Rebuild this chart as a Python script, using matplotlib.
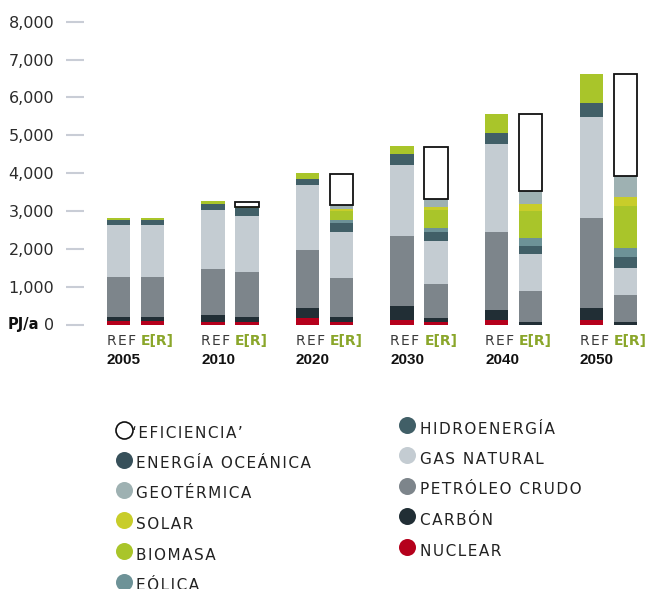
import matplotlib
matplotlib.use("Agg")
import matplotlib.pyplot as plt
import matplotlib.transforms as mtrans
import numpy as np

# ---------------- data ----------------
years = ["2005", "2010", "2020", "2030", "2040", "2050"]
scenarios = ["REF", "E[R]"]

sources = ["NUCLEAR", "CARBÓN", "PETRÓLEO CRUDO", "GAS NATURAL", "HIDROENERGÍA",
           "ENERGÍA OCEÁNICA", "EÓLICA", "BIOMASA", "SOLAR", "GEOTÉRMICA", "‘EFICIENCIA’"]

# segment values in PJ/a, one entry per year
ref_nuclear   = [87, 61, 159, 132, 132, 132]
ref_carbon    = [98, 177, 264, 344, 238, 291]
ref_petroleo  = [1057, 1216, 1533, 1850, 2062, 2379]
ref_gas       = [1375, 1559, 1718, 1877, 2326, 2670]
ref_hidro     = [140, 159, 159, 291, 291, 370]
ref_oceanica  = [0, 0, 0, 0, 0, 0]
ref_eolica    = [0, 0, 0, 0, 0, 0]
ref_biomasa   = [45, 79, 158, 211, 502, 766]
ref_solar     = [0, 0, 0, 0, 0, 0]
ref_geotermica = [0, 0, 0, 0, 0, 0]
ref_eficiencia = [0, 0, 0, 0, 0, 0]

er_nuclear    = [87, 53, 53, 53, 0, 0]
er_carbon     = [98, 132, 132, 106, 79, 53]
er_petroleo   = [1057, 1190, 1031, 898, 793, 714]
er_gas        = [1375, 1480, 1216, 1137, 978, 713]
er_hidro      = [140, 230, 238, 238, 212, 291]
er_oceanica   = [0, 0, 0, 0, 0, 0]
er_eolica     = [0, 0, 79, 106, 211, 238]
er_biomasa    = [45, 16, 238, 475, 714, 1110]
er_solar      = [0, 0, 53, 80, 185, 238]
er_geotermica = [0, 0, 114, 211, 344, 555]
er_eficiencia = [0, 132, 830, 1375, 2035, 2696]

yticks = [0, 1000, 2000, 3000, 4000, 5000, 6000, 7000, 8000]
ytick_labels = ["0", "1,000", "2,000", "3,000", "4,000", "5,000", "6,000", "7,000", "8,000"]

# ---------------- style ----------------
colors = {
    "NUCLEAR": "#b5001c",
    "CARBÓN": "#212e35",
    "PETRÓLEO CRUDO": "#7d858b",
    "GAS NATURAL": "#c4ccd2",
    "HIDROENERGÍA": "#415f67",
    "ENERGÍA OCEÁNICA": "#37505a",
    "EÓLICA": "#6d9297",
    "BIOMASA": "#a9c52a",
    "SOLAR": "#c8cd2a",
    "GEOTÉRMICA": "#9eb1b2",
    "‘EFICIENCIA’": "#ffffff",
}

ref_data = [ref_nuclear, ref_carbon, ref_petroleo, ref_gas, ref_hidro, ref_oceanica,
            ref_eolica, ref_biomasa, ref_solar, ref_geotermica, ref_eficiencia]
er_data = [er_nuclear, er_carbon, er_petroleo, er_gas, er_hidro, er_oceanica,
           er_eolica, er_biomasa, er_solar, er_geotermica, er_eficiencia]

W, H = 648, 589
fig = plt.figure(figsize=(W / 100, H / 100), dpi=100)

ax_left_px, ax_right_px = 84, 648
ax_bottom_px, ax_top_px = 324.5, 21.7
ax = fig.add_axes([ax_left_px / W, 1 - ax_bottom_px / H,
                   (ax_right_px - ax_left_px) / W, (ax_bottom_px - ax_top_px) / H])

group_px = 94.6
first_center = 135.3
ax.set_xlim((ax_left_px - first_center) / group_px, (ax_right_px - first_center) / group_px)
ax.set_ylim(0, 8000)

x = np.arange(len(years))
off = 17 / group_px
bw = 23.3 / group_px

for data, xo in ((ref_data, -off), (er_data, off)):
    bottom = np.zeros(len(years))
    for name, vals in zip(sources, data):
        vals = np.array(vals, dtype=float)
        if name == "‘EFICIENCIA’":
            mask = vals > 0
            ax.bar(x[mask] + xo, vals[mask], bw, bottom=bottom[mask], color="white",
                   edgecolor="#111111", linewidth=1.3, zorder=3)
        else:
            ax.bar(x + xo, vals, bw, bottom=bottom, color=colors[name], linewidth=0, zorder=2)
        bottom += vals

for s in ax.spines.values():
    s.set_visible(False)
ax.set_xticks([])
ax.set_yticks(yticks)
ax.set_yticklabels(ytick_labels)
ax.tick_params(axis="y", length=13, width=1.5, color="#c9cdd6", pad=8.4,
               labelsize=11.5, labelcolor="#2b2b2b")
ax.patch.set_visible(False)

HS = "\u200a"

def spaced(t):
    return HS.join(list(t))

# category labels
trans = mtrans.blended_transform_factory(ax.transData, fig.transFigure)
for i, yr in enumerate(years):
    ax.text(x[i] - off - bw / 2, 1 - 341 / H, spaced("REF"), transform=trans,
            ha="left", va="center", fontsize=10, color="#3a3a3a", family="DejaVu Sans")
    ax.text(x[i] + off - bw / 2, 1 - 341 / H, "E[R]", transform=trans,
            ha="left", va="center", fontsize=10, color="#8aa62a", fontweight="bold",
            family="DejaVu Sans")
    ax.text(x[i] - off - bw / 2, 1 - 359.5 / H, yr, transform=trans,
            ha="left", va="center", fontsize=11, color="#111111", fontweight="bold",
            family="Liberation Sans")

fig.text(8 / W, 1 - 324.5 / H, "PJ/a", ha="left", va="center", fontsize=10.5,
         fontweight="bold", color="#111111")

# legend
lax = fig.add_axes([0, 0, 1, 1])
lax.set_xlim(0, W)
lax.set_ylim(H, 0)
lax.axis("off")

left_items = ["‘EFICIENCIA’", "ENERGÍA OCEÁNICA", "GEOTÉRMICA", "SOLAR", "BIOMASA", "EÓLICA"]
right_items = ["HIDROENERGÍA", "GAS NATURAL", "PETRÓLEO CRUDO", "CARBÓN", "NUCLEAR"]
left_y = [429.5, 459.5, 489.5, 520.3, 551.2, 581.7]
right_y = [424.7, 455, 485.5, 516.3, 547]

for items, ys, cx, tx in ((left_items, left_y, 123.7, 136.5), (right_items, right_y, 407.2, 420)):
    for name, cy in zip(items, ys):
        if name == "‘EFICIENCIA’":
            lax.scatter([cx], [cy], s=150, facecolor="white", edgecolor="#111111",
                        linewidth=1.2, clip_on=False)
            lax.text(tx - 4, cy + 8.8, spaced(name), ha="left", va="baseline",
                     fontsize=11, color="#222222")
        else:
            lax.scatter([cx], [cy], s=150, color=colors[name], linewidth=0, clip_on=False)
            lax.text(tx, cy + 8.8, spaced(name), ha="left", va="baseline",
                     fontsize=11, color="#222222")

fig.savefig("out.png", dpi=100)
